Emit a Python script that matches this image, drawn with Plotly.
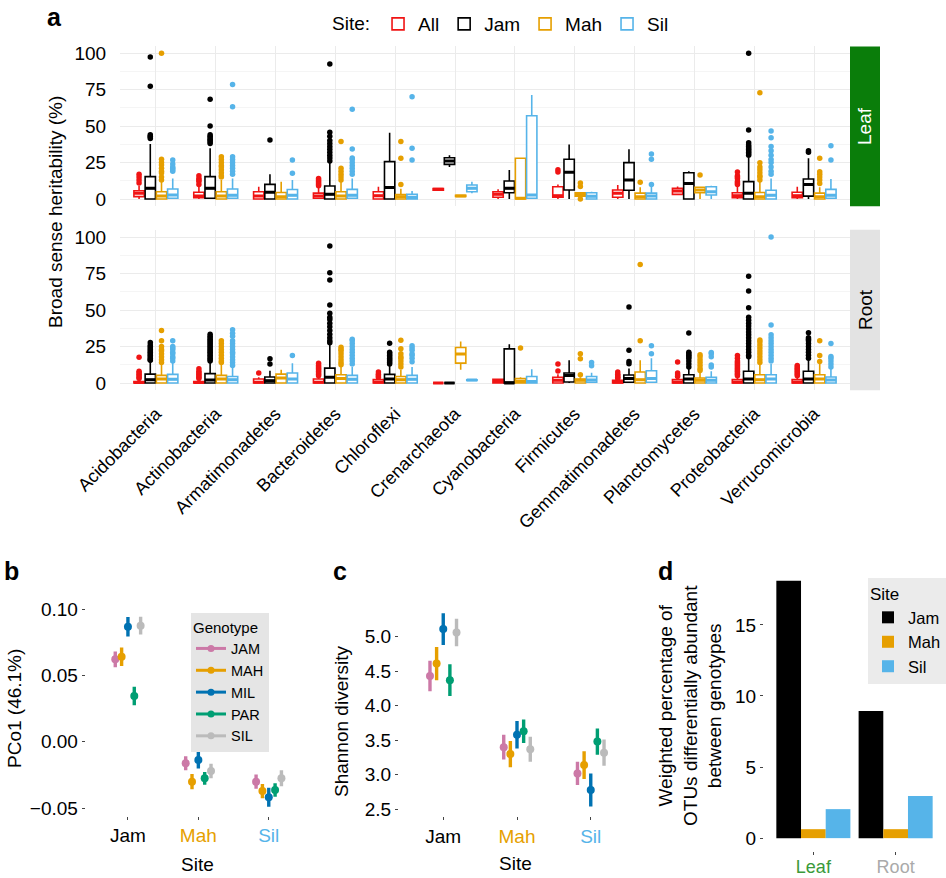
import plotly.graph_objects as go

FONT = "Liberation Sans, Arial, Helvetica, sans-serif"
W, H = 946, 878

# ---------------- Panel a data ----------------
CATEGORIES = ["Acidobacteria", "Actinobacteria", "Armatimonadetes", "Bacteroidetes",
              "Chloroflexi", "Crenarchaeota", "Cyanobacteria", "Firmicutes",
              "Gemmatimonadetes", "Planctomycetes", "Proteobacteria", "Verrucomicrobia"]
SITES_A = ["All", "Jam", "Mah", "Sil"]
SITE_COLORS_A = ["#f01414", "#000000", "#e69f00", "#56b4e9"]

# box stats per category: (q1, median, q3, lower whisker, upper whisker)
leaf_all_box = [(1.6, 3.9, 5.7, 0, 9), (0.9, 2, 4.6, 0, 9), (0, 2, 5, 0, 8.4), (0.5, 2, 4, 0, 8),
                (0, 2.3, 5, 0, 8.4), (6, 6.6, 7.2, 5.8, 7.5), (1.2, 3.2, 5, 0, 6.6), (1.2, 2.3, 8.4, 0, 10),
                (1.2, 4, 6.2, 0, 9.6), (3.2, 5.5, 7.3, 2.5, 8.5), (0.9, 2.3, 4.3, 0, 8.5), (0.9, 2.3, 4.6, 0, 8.4)]
leaf_all_out = [[17, 15, 13, 11], [16, 14, 13, 12, 10], [], [14, 13, 12, 11, 10, 9], [], [], [],
                [20, 18.5], [], [], [18.5, 16, 15, 14, 12, 11, 10], []]

leaf_jam_box = [(0, 7.3, 15.3, 0, 37.7), (0.5, 7.3, 15.3, 0, 34.7), (0, 4.6, 10, 0, 17), (0, 3.2, 8.9, 0, 25.6),
                (0, 7.8, 25.6, 0, 45.4), (23.7, 26, 28.3, 22, 30), (4.3, 7.3, 12.3, 0, 19.9), (6.2, 18.3, 27.2, 0, 37.4),
                (6, 13, 24.9, 0, 34), (0, 10.7, 18, 0, 19), (0, 3.9, 11.9, 0, 28.3), (2, 10, 13.7, 0, 27.9)]
leaf_jam_out = [[97.3, 77.2, 44, 43, 42.5, 41.5], [68.3, 50, 44, 43, 42, 41, 40, 39, 38], [40.4],
                [92.5, 45.7, 43, 40, 38, 36, 34, 32, 30, 28, 26], [], [], [], [], [], [],
                [99.8, 47.3, 38.5, 37, 36, 35, 34, 33, 32, 31, 30], [33, 32]]

leaf_mah_box = [(0, 2, 5, 0, 11.8), (0, 2, 5, 0, 13), (0, 1.5, 4.5, 0, 11.8), (0, 2, 5, 0, 12),
                (0, 1.5, 3, 0, 7), (1.7, 2, 2.5, 1.5, 2.7), (0, 0.5, 27.9, 0, 27.9), (2, 3.2, 4.3, 2, 4.5),
                (0, 1.5, 4, 0, 8), (4.3, 6.2, 8, 0, 8.5), (0, 1.5, 4.5, 0, 12), (0, 1.5, 4, 0, 8)]
leaf_mah_out = [[99.8, 27.2, 25, 23.3, 21, 19, 17.8, 15, 13], [29, 27, 25, 23, 22, 20, 18, 16, 15], [],
                [39.3, 21, 19, 17, 15, 13], [39.3, 27.9, 10], [], [], [11, 8.5, 0], [11.4], [16.4],
                [72.8, 24.9, 22, 20, 18, 16, 15, 13], [27.9, 18.7, 17, 15, 13, 10.7]]

leaf_sil_box = [(0.5, 2.7, 6.8, 0, 14), (0.5, 2.5, 6.8, 0, 14), (0, 2.5, 6.5, 0, 13), (0.5, 2.5, 6.6, 0, 14),
                (0, 1, 3.2, 0, 5.5), (5, 7.3, 9.6, 4, 11.8), (0.5, 2.7, 57, 0, 71.2), (0, 1.8, 4.3, 0, 5),
                (0, 2, 4, 0, 9), (2.7, 5, 8.4, 0, 9), (0, 2.5, 6, 0, 14), (0.5, 2.5, 6.6, 0, 13.7)]
leaf_sil_out = [[26.7, 24, 22, 21, 20, 19], [78.5, 63.2, 29, 27, 25, 23, 21, 19, 17], [26.7, 17.6],
                [61.4, 34.2, 28, 27, 25, 23, 21, 19, 17], [70, 34.7, 26.7], [], [], [], [30.8, 27.2, 10], [],
                [46.6, 42, 36, 33, 30, 27, 25, 22, 19, 17], [36.5, 26.7]]

root_all_box = [(0, 0.3, 1, 0, 2), (0, 0.3, 1, 0, 2), (0, 0.5, 2.7, 0, 4), (0, 0.5, 2.7, 0, 4),
                (0, 0.5, 2.3, 0, 3), (0, 0, 0, 0, 0), (0, 1, 2.5, 0, 3), (0, 1.8, 3.9, 0, 6),
                (0, 0.5, 1.8, 0, 2.5), (0, 0.5, 2.3, 0, 3), (0, 0.5, 2.3, 0, 4), (0, 0.5, 2.3, 0, 4)]
root_all_out = [[17.7, 8, 7, 6, 5, 4, 3], [9.8, 8, 7, 6, 5, 4, 3], [6.8], [13.6, 12, 11, 10, 9, 8, 7, 6, 5],
                [7.5, 6, 5, 4], [], [], [13, 8.2], [7.5, 6, 5, 4, 3], [14.3, 6.8, 5.5, 4.5],
                [18.9, 17, 15, 14, 13, 12, 11, 10, 9, 8, 7, 6, 5], [12, 11, 10, 9, 8, 7, 6, 5]]

root_jam_box = [(0, 2.3, 6.1, 0, 14.8), (0, 2, 6.4, 0, 14), (0, 1.6, 4.1, 0, 8.4), (0, 3.9, 10.2, 0, 26),
                (0, 2.7, 5.9, 0, 12), (0, 0, 0, 0, 0), (0, 0, 23.4, 0, 26.6), (0.7, 5.2, 6.8, 0, 15.5),
                (0.5, 3, 5.5, 0, 10), (0, 2.7, 5.7, 0, 10.2), (0, 2.7, 8, 0, 17), (0, 2.7, 8, 0, 16)]
root_jam_out = [[27.7, 26, 25, 24, 23, 22, 21, 20, 19, 18, 17, 16, 15.5],
                [33.4, 32, 31, 30, 29, 28, 27, 26, 25, 24, 23, 22, 21, 20, 19, 18, 17, 16, 15],
                [16.6, 13],
                [93.9, 75.5, 70.5, 53.4, 47.7, 45, 43.5, 41, 38.6, 36, 33.4, 31, 29, 27.5],
                [27.3, 21, 20, 19, 18, 17, 16, 15, 14, 13], [], [], [],
                [52, 22.5, 14.8, 13.2], [34.3, 21, 20, 19, 18, 17, 15, 13, 11],
                [73.2, 63, 51.6, 45, 43, 41, 39, 37, 35, 33, 31, 29, 27, 25, 23, 21, 19, 18],
                [34.5, 31, 30, 29, 27, 25, 23, 21, 19, 17]]

root_mah_box = [(0, 2.7, 5.2, 0, 13), (0, 2.7, 5.2, 0, 13), (0, 3.4, 6.1, 0, 9.1), (0, 3, 5.7, 0, 12),
                (0, 2.3, 4.5, 0, 9), (13.6, 19.8, 24.3, 9.1, 28.4), (0, 1.1, 3, 0, 4), (0, 1.8, 2.7, 0, 4),
                (0, 2.3, 7.5, 0, 15.5), (0, 1.8, 3.4, 0, 8), (0, 2.3, 5.7, 0, 13), (0, 2.7, 5.7, 0, 13)]
root_mah_out = [[35.9, 28.9, 25, 23, 22, 20, 18, 16, 14], [28.9, 27, 25, 23, 21, 19, 17, 15, 14], [],
                [24.5, 23, 22, 20, 18, 16, 14, 12.5], [29.3, 23.4, 20, 18, 17, 15, 13, 11], [],
                [23.9], [20, 16.6, 5.7], [81.1, 28.9], [19.3, 18, 16, 14, 12, 10, 8.5],
                [29.5, 28, 26, 24, 22, 20, 18, 16, 14], [28.9, 18.9, 14.8]]

root_sil_box = [(0, 2.5, 5.9, 0, 14), (0, 2.3, 4.5, 0, 11), (0, 2.7, 6.8, 0, 13.6), (0, 2.5, 5.2, 0, 11),
                (0, 2.5, 5.2, 0, 11), (1.8, 2, 2.2, 1.5, 2.5), (0, 1, 4.5, 0, 9.5), (0.5, 2, 4.5, 0, 7),
                (0.5, 3, 8.4, 0, 17), (0, 1.8, 3.9, 0, 8), (0, 2.7, 5.7, 0, 13), (0, 2, 4.1, 0, 10)]
root_sil_out = [[28.9, 25, 24, 23, 21, 20, 18, 17, 15], [36.4, 34, 32, 29, 27, 25, 23, 21, 20, 18, 16, 14, 12],
                [18.9], [30, 29, 27, 25, 23, 21, 19, 17, 15, 13], [25.5, 24, 22.5, 20, 19, 17, 14.5], [],
                [], [14.1, 11.8], [25.5, 20], [20.9, 20, 18, 12.3, 11],
                [100, 39.8, 33, 31, 29, 27, 25, 23, 21, 19, 17, 15], [27, 18.2, 17, 15, 13, 11]]

A_Y_TICKS = [0, 25, 50, 75, 100]

# ---------------- Panels b, c data ----------------
SITES_BC = ["Jam", "Mah", "Sil"]
SITE_TICK_COLORS = ["#000000", "#e69f00", "#56b4e9"]
GENOTYPES = ["JAM", "MAH", "MIL", "PAR", "SIL"]
GENO_COLORS = ["#cc79a7", "#e69f00", "#0072b2", "#009e73", "#bbbbbb"]

# PCo1 mean and half-range per genotype, for sites Jam, Mah, Sil
pco1_mean = {"JAM": [0.0621, -0.0163, -0.0301], "MAH": [0.0641, -0.0301, -0.0372],
             "MIL": [0.0867, -0.0138, -0.0419], "PAR": [0.0344, -0.0276, -0.0364],
             "SIL": [0.0875, -0.0221, -0.0276]}
pco1_err = {"JAM": [0.006, 0.0053, 0.0054], "MAH": [0.007, 0.0057, 0.0054],
            "MIL": [0.0073, 0.0064, 0.0072], "PAR": [0.007, 0.0048, 0.005],
            "SIL": [0.0067, 0.0054, 0.006]}
PCO1_TICKS = [-0.05, 0.0, 0.05, 0.10]

shannon_mean = {"JAM": [4.43, 3.40, 3.02], "MAH": [4.61, 3.30, 3.14],
                "MIL": [5.11, 3.58, 2.78], "PAR": [4.37, 3.63, 3.48],
                "SIL": [5.06, 3.37, 3.32]}
shannon_err = {"JAM": [0.22, 0.18, 0.17], "MAH": [0.24, 0.19, 0.2],
               "MIL": [0.23, 0.2, 0.24], "PAR": [0.23, 0.17, 0.19],
               "SIL": [0.2, 0.18, 0.19]}
SHANNON_TICKS = [2.5, 3.0, 3.5, 4.0, 4.5, 5.0]

# ---------------- Panel d data ----------------
TISSUES = ["Leaf", "Root"]
TISSUE_TICK_COLORS = ["#3a9a3a", "#aaaaaa"]
SITES_D = ["Jam", "Mah", "Sil"]
SITE_COLORS_D = ["#000000", "#e69f00", "#56b4e9"]
otu_pct = {"Jam": [18.1, 8.95], "Mah": [0.63, 0.63], "Sil": [2.04, 2.97]}
D_TICKS = [0, 5, 10, 15]


def px_x(p):
    return p / W


def px_y(p):
    return 1 - p / H


fig = go.Figure()

# ---------------- Panel a traces ----------------
BOX_STEP = 0.1875
a_series = {
    ("Leaf", "All"): (leaf_all_box, leaf_all_out), ("Leaf", "Jam"): (leaf_jam_box, leaf_jam_out),
    ("Leaf", "Mah"): (leaf_mah_box, leaf_mah_out), ("Leaf", "Sil"): (leaf_sil_box, leaf_sil_out),
    ("Root", "All"): (root_all_box, root_all_out), ("Root", "Jam"): (root_jam_box, root_jam_out),
    ("Root", "Mah"): (root_mah_box, root_mah_out), ("Root", "Sil"): (root_sil_box, root_sil_out),
}
for tissue, xa, ya in [("Leaf", "x", "y"), ("Root", "x2", "y2")]:
    for s, site in enumerate(SITES_A):
        stats, outs = a_series[(tissue, site)]
        col = SITE_COLORS_A[s]
        pos = [i + (s - 1.5) * BOX_STEP for i in range(len(CATEGORIES))]
        fig.add_trace(go.Box(
            x=pos, q1=[b[0] for b in stats], median=[b[1] for b in stats], q3=[b[2] for b in stats],
            lowerfence=[b[3] for b in stats], upperfence=[b[4] for b in stats],
            width=BOX_STEP * 0.92, whiskerwidth=0, boxpoints=False,
            line=dict(color=col, width=1.6), fillcolor="white",
            name=site, legendgroup=site, showlegend=(tissue == "Leaf"), legend="legend",
            xaxis=xa, yaxis=ya, hoverinfo="skip"))
        # thicker median bar, as drawn by ggplot
        mx, my = [], []
        for i, b in enumerate(stats):
            mx += [pos[i] - BOX_STEP * 0.46, pos[i] + BOX_STEP * 0.46, None]
            my += [b[1], b[1], None]
        fig.add_trace(go.Scatter(x=mx, y=my, mode="lines", line=dict(color=col, width=3),
                                 showlegend=False, xaxis=xa, yaxis=ya, hoverinfo="skip"))
        ox, oy = [], []
        for i, vals in enumerate(outs):
            ox += [pos[i]] * len(vals)
            oy += vals
        fig.add_trace(go.Scatter(x=ox, y=oy, mode="markers", marker=dict(color=col, size=5.5),
                                 showlegend=False, xaxis=xa, yaxis=ya, hoverinfo="skip"))

# ---------------- Panels b and c traces ----------------
DODGE = 0.09
for g, geno in enumerate(GENOTYPES):
    xs = [k + 1 + (g - 2) * DODGE for k in range(len(SITES_BC))]
    fig.add_trace(go.Scatter(
        x=xs, y=pco1_mean[geno], mode="markers",
        marker=dict(color=GENO_COLORS[g], size=8),
        error_y=dict(type="data", array=pco1_err[geno], color=GENO_COLORS[g], thickness=3.4, width=0),
        showlegend=False, xaxis="x3", yaxis="y3"))
    fig.add_trace(go.Scatter(
        x=xs, y=shannon_mean[geno], mode="markers",
        marker=dict(color=GENO_COLORS[g], size=8),
        error_y=dict(type="data", array=shannon_err[geno], color=GENO_COLORS[g], thickness=3.4, width=0),
        showlegend=False, xaxis="x4", yaxis="y4"))
    # legend key (line with dot, as in a pointrange key)
    fig.add_trace(go.Scatter(
        x=[None], y=[None], mode="lines+markers", name=geno,
        marker=dict(color=GENO_COLORS[g], size=7), line=dict(color=GENO_COLORS[g], width=3),
        legend="legend2", xaxis="x3", yaxis="y3"))

# ---------------- Panel d traces ----------------
for s, site in enumerate(SITES_D):
    fig.add_trace(go.Bar(
        x=[t + 1 + (s - 1) * 0.3 for t in range(len(TISSUES))], y=otu_pct[site],
        width=0.3, marker=dict(color=SITE_COLORS_D[s], line=dict(width=0)),
        name=site, legend="legend3", xaxis="x5", yaxis="y5"))

# ---------------- Layout ----------------
tickfont = dict(family=FONT, size=19, color="black")
grid = "#ebebeb"
a_x_dom = [px_x(120), px_x(850)]

common_a_y = dict(range=[-5, 105], tickvals=A_Y_TICKS, showgrid=True, gridcolor=grid, gridwidth=1,
                  zeroline=False, showline=False, ticks="outside", ticklen=9, tickcolor="rgba(0,0,0,0)",
                  tickfont=tickfont, automargin=False,
                  minor=dict(tickvals=[12.5, 37.5, 62.5, 87.5], showgrid=True, gridcolor="#f5f5f5", gridwidth=0.6))
common_a_x = dict(range=[-0.6, len(CATEGORIES) - 0.4], tickvals=list(range(len(CATEGORIES))),
                  showgrid=True, gridcolor=grid, zeroline=False, showline=False, automargin=False)
plain = dict(showgrid=False, zeroline=False, showline=False, ticks="outside", ticklen=3,
             tickcolor="#444", automargin=False)

fig.update_layout(
    width=W, height=H, margin=dict(l=0, r=0, t=0, b=0, autoexpand=False),
    paper_bgcolor="white", plot_bgcolor="white",
    font=dict(family=FONT, size=19, color="black"),
    xaxis=dict(domain=a_x_dom, anchor="y", showticklabels=False, ticks="", **common_a_x),
    yaxis=dict(domain=[px_y(206.3), px_y(45.7)], anchor="x", **common_a_y),
    xaxis2=dict(domain=a_x_dom, anchor="y2", ticktext=CATEGORIES, tickangle=-45,
                ticks="outside", ticklen=5, tickcolor="rgba(0,0,0,0)",
                tickfont=dict(family=FONT, size=18, color="black"), **common_a_x),
    yaxis2=dict(domain=[px_y(390.3), px_y(229.7)], anchor="x2", **common_a_y),
    xaxis3=dict(domain=[px_x(85.7), px_x(311)], anchor="y3", range=[0.4, 3.6], tickvals=[1, 2, 3],
                ticktext=[f'<span style="color:{c}">{s}</span>' for s, c in zip(SITES_BC, SITE_TICK_COLORS)],
                tickfont=tickfont, **plain),
    yaxis3=dict(domain=[px_y(815.6), px_y(607.6)], anchor="x3", range=[-0.0557, 0.1011],
                tickvals=PCO1_TICKS, tickformat=".2f", tickfont=tickfont, **plain),
    xaxis4=dict(domain=[px_x(399), px_x(635)], anchor="y4", range=[0.4, 3.6], tickvals=[1, 2, 3],
                ticktext=[f'<span style="color:{c}">{s}</span>' for s, c in zip(SITES_BC, SITE_TICK_COLORS)],
                tickfont=tickfont, **plain),
    yaxis4=dict(domain=[px_y(816.2), px_y(603.5)], anchor="x4", range=[2.40, 5.48],
                tickvals=SHANNON_TICKS, tickformat=".1f", tickfont=tickfont, **plain),
    xaxis5=dict(domain=[px_x(764), px_x(945)], anchor="y5", range=[0.4, 2.6], tickvals=[1, 2],
                ticktext=[f'<span style="color:{c}">{t}</span>' for t, c in zip(TISSUES, TISSUE_TICK_COLORS)],
                tickfont=dict(family=FONT, size=18, color="black"), ticklabelstandoff=-4, **plain),
    yaxis5=dict(domain=[px_y(851), px_y(568)], anchor="x5", range=[-0.905, 19.0],
                tickvals=D_TICKS, tickfont=tickfont, **plain),
    legend=dict(orientation="h", x=px_x(330), y=px_y(24), xanchor="left", yanchor="middle",
                title=dict(text="Site:", side="left", font=dict(family=FONT, size=19)),
                font=dict(family=FONT, size=19), bgcolor="rgba(0,0,0,0)", itemwidth=30),
    legend2=dict(x=px_x(191), y=px_y(613), xanchor="left", yanchor="top", bgcolor="#e5e5e5",
                 title=dict(text="Genotype", font=dict(family=FONT, size=15)),
                 font=dict(family=FONT, size=14.5), tracegroupgap=0, itemwidth=30),
    legend3=dict(x=1, y=px_y(578), xanchor="right", yanchor="top", bgcolor="#ebebeb",
                 title=dict(text="Site", font=dict(family=FONT, size=17)),
                 font=dict(family=FONT, size=16.5), tracegroupgap=0, itemwidth=30),
)

# Facet strips
fig.add_shape(type="rect", xref="paper", yref="paper", x0=px_x(850), x1=px_x(880),
              y0=px_y(206.3), y1=px_y(46.5), fillcolor="#0a7d0a", line=dict(width=0), layer="below")
fig.add_shape(type="rect", xref="paper", yref="paper", x0=px_x(850), x1=px_x(880),
              y0=px_y(390.3), y1=px_y(229.7), fillcolor="#e3e3e3", line=dict(width=0), layer="below")

annots = [
    dict(text="Leaf", x=px_x(865), y=px_y(126), textangle=-90, font=dict(size=19, color="white")),
    dict(text="Root", x=px_x(865), y=px_y(310), textangle=-90, font=dict(size=19, color="black")),
    dict(text="<b>a</b>", x=px_x(54), y=px_y(17), font=dict(size=25)),
    dict(text="<b>b</b>", x=px_x(11), y=px_y(571), font=dict(size=25)),
    dict(text="<b>c</b>", x=px_x(340), y=px_y(571), font=dict(size=25)),
    dict(text="<b>d</b>", x=px_x(665), y=px_y(571), font=dict(size=25)),
    dict(text="Broad sense heritability (%)", x=px_x(56), y=px_y(212), textangle=-90, font=dict(size=19)),
    dict(text="PCo1 (46.1%)", x=px_x(14), y=px_y(709), textangle=-90, font=dict(size=19)),
    dict(text="Site", x=px_x(197), y=px_y(864), font=dict(size=19)),
    dict(text="Shannon diversity", x=px_x(341), y=px_y(721), textangle=-90, font=dict(size=19)),
    dict(text="Site", x=px_x(515), y=px_y(863), font=dict(size=19)),
    dict(text="Weighted percentage of<br>OTUs differentially abundant<br>between genotypes",
         x=px_x(690), y=px_y(706), textangle=-90, font=dict(size=19)),
]
for a in annots:
    a.update(xref="paper", yref="paper", showarrow=False, xanchor="center", yanchor="middle")
    a["font"] = dict(family=FONT, **a["font"])
    fig.add_annotation(**a)

fig.write_html("out.html", config={"displayModeBar": False},
               post_script="document.body.style.margin='0';")
